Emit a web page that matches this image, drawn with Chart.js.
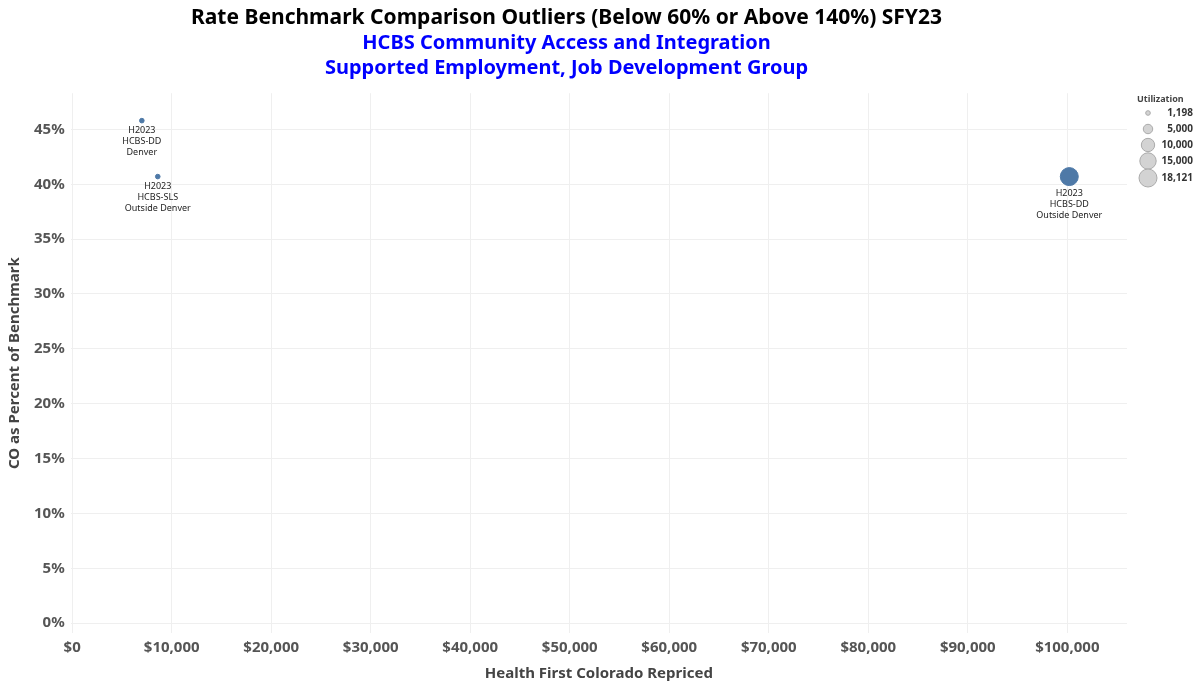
<!DOCTYPE html>
<html>
<head>
<meta charset="utf-8">
<script src="https://cdn.jsdelivr.net/npm/chart.js@4"></script>
<style>
  body { margin: 0; background: #fff; }
  #wrap { width: 1199px; height: 685px; position: relative; }
</style>
</head>
<body>
<div id="wrap"><canvas id="chart"></canvas></div>
<script>
// data
const labels = [
  ['H2023', 'HCBS-DD', 'Denver'],
  ['H2023', 'HCBS-SLS', 'Outside Denver'],
  ['H2023', 'HCBS-DD', 'Outside Denver']
];
const repriced = [7000, 8600, 100200];
const pctBenchmark = [0.458, 0.407, 0.407];
const utilization = [1198, 1198, 18121];

const xTicks = [0, 10000, 20000, 30000, 40000, 50000, 60000, 70000, 80000, 90000, 100000];
const yTicks = [0, 0.05, 0.10, 0.15, 0.20, 0.25, 0.30, 0.35, 0.40, 0.45];
const legendValues = [1198, 5000, 10000, 15000, 18121];

const maxUtil = 18121;
const radiusFor = u => 9 * Math.sqrt(u / maxUtil);
const FONT = "'Noto Sans', 'DejaVu Sans', sans-serif";

const pointLabels = {
    id: 'pointLabels',
    afterDatasetsDraw(chart) {
        const ctx = chart.ctx;
        const meta = chart.getDatasetMeta(0);
        ctx.save();
        ctx.fillStyle = '#222';
        ctx.font = '9px ' + FONT;
        ctx.textAlign = 'center';
        ctx.textBaseline = 'top';
        meta.data.forEach((pt, i) => {
            const r = radiusFor(utilization[i]);
            labels[i].forEach((line, j) => {
                ctx.fillText(line, pt.x, pt.y + r + 3 + j * 11);
            });
        });
        ctx.restore();
    }
};

const sizeLegend = {
    id: 'sizeLegend',
    afterDraw(chart) {
        const ctx = chart.ctx;
        ctx.save();
        ctx.font = 'bold 9px ' + FONT;
        ctx.fillStyle = '#444';
        ctx.textAlign = 'left';
        ctx.textBaseline = 'middle';
        ctx.fillText('Utilization', 1137, 99);
        const ys = [113, 129, 145, 161, 178];
        legendValues.forEach((v, i) => {
            const r = radiusFor(v);
            ctx.beginPath();
            ctx.arc(1148, ys[i], r, 0, Math.PI * 2);
            ctx.fillStyle = '#d3d3d3';
            ctx.fill();
            ctx.strokeStyle = '#aaa';
            ctx.lineWidth = 1;
            ctx.stroke();
            ctx.fillStyle = '#333';
            ctx.font = 'bold 10px ' + FONT;
            ctx.textAlign = 'right';
            ctx.fillText(v.toLocaleString('en-US'), 1193, ys[i]);
        });
        ctx.restore();
    }
};

new Chart(document.getElementById('chart'), {
    type: 'scatter',
    data: {
        datasets: [{
            data: repriced.map((x, i) => ({ x: x, y: pctBenchmark[i] })),
            backgroundColor: '#4e79a7',
            borderColor: '#4e79a7',
            pointRadius: utilization.map(radiusFor),
            pointHoverRadius: utilization.map(radiusFor)
        }]
    },
    plugins: [pointLabels, sizeLegend],
    options: {
        responsive: true,
        maintainAspectRatio: false,
        animation: false,
        layout: { padding: { left: 6, right: 72, top: 0, bottom: 2 } },
        plugins: {
            legend: { display: false },
            tooltip: { enabled: false },
            title: {
                display: true,
                text: 'Rate Benchmark Comparison Outliers (Below 60% or Above 140%) SFY23',
                color: '#000',
                font: { family: FONT, size: 21, weight: 'bold', lineHeight: 1.2 },
                padding: { top: 5, bottom: 0 }
            },
            subtitle: {
                display: true,
                text: ['HCBS Community Access and Integration', 'Supported Employment, Job Development Group'],
                color: '#0000ff',
                font: { family: FONT, size: 20, weight: 'bold', lineHeight: 1.25 },
                padding: { top: 1, bottom: 12 }
            }
        },
        scales: {
            x: {
                type: 'linear',
                min: -150,
                max: 106000,
                afterBuildTicks: s => { s.ticks = xTicks.map(v => ({ value: v })); },
                ticks: {
                    color: '#555',
                    font: { family: FONT, size: 15, weight: 'bold' },
                    maxRotation: 0,
                    padding: 6,
                    callback: v => '$' + v.toLocaleString('en-US')
                },
                grid: { color: '#efefef', drawTicks: false },
                border: { display: false },
                title: {
                    display: true,
                    text: 'Health First Colorado Repriced',
                    color: '#444',
                    font: { family: FONT, size: 15, weight: 'bold' },
                    padding: { top: 2, bottom: 0 }
                }
            },
            y: {
                type: 'linear',
                min: -0.009,
                max: 0.483,
                afterBuildTicks: s => { s.ticks = yTicks.map(v => ({ value: v })); },
                ticks: {
                    color: '#555',
                    font: { family: FONT, size: 15, weight: 'bold' },
                    padding: 6,
                    callback: v => Math.round(v * 100) + '%'
                },
                grid: { color: '#efefef', drawTicks: false },
                border: { display: false },
                title: {
                    display: true,
                    text: 'CO as Percent of Benchmark',
                    color: '#444',
                    font: { family: FONT, size: 15, weight: 'bold' },
                    padding: { top: 0, bottom: 4 }
                }
            }
        }
    }
});
</script>
</body>
</html>
